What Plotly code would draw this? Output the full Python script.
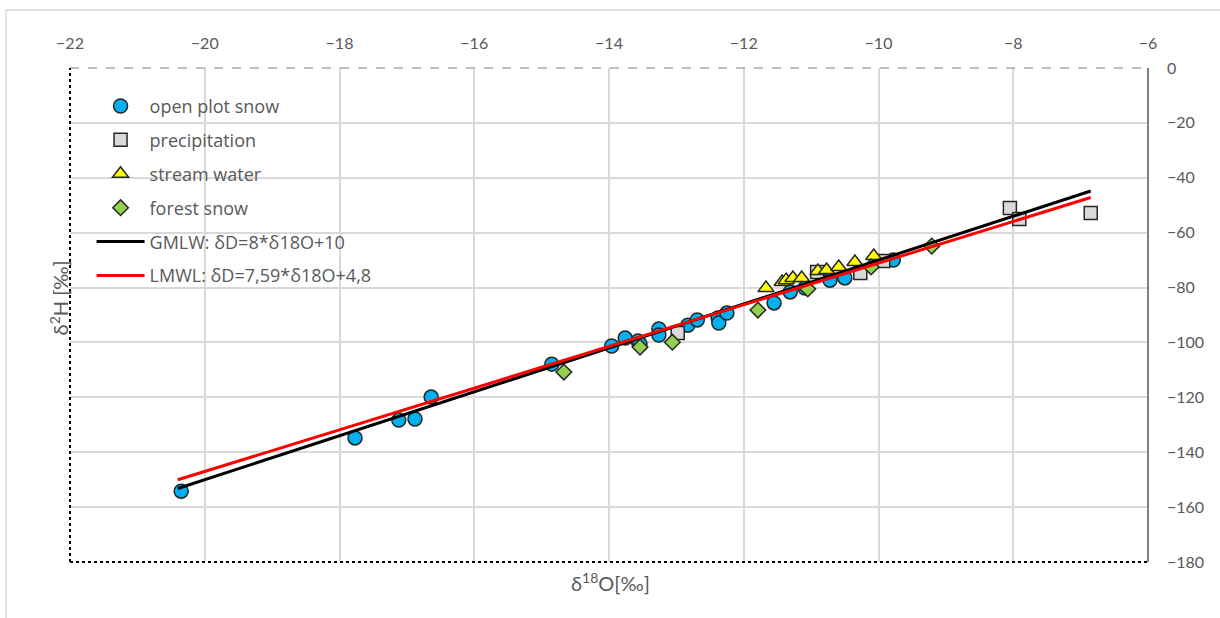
import plotly.graph_objects as go

# Isotope data: delta-18O (x) and delta-2H (y), per mille
snow_open_x = [-20.35, -17.77, -17.12, -16.88, -16.64, -14.85, -13.96, -13.76, -13.57, -13.54,
               -13.26, -13.26, -12.83, -12.69, -12.38, -12.37, -12.25, -11.55, -11.31, -11.09,
               -10.72, -10.50, -9.78]
snow_open_y = [-154.2, -134.8, -128.3, -127.9, -119.9, -107.9, -101.3, -98.4, -99.5, -100.6,
               -95.1, -97.3, -93.7, -91.8, -91.1, -92.9, -89.3, -85.6, -81.6, -80.2,
               -77.3, -76.5, -70.0]

precip_x = [-12.98, -10.91, -10.27, -9.93, -8.05, -7.91, -6.85]
precip_y = [-96.6, -74.3, -74.7, -70.3, -51.0, -55.0, -52.8]

stream_x = [-11.67, -11.43, -11.37, -11.27, -11.14, -10.90, -10.77, -10.59, -10.35, -10.07]
stream_y = [-80.2, -78.0, -77.3, -76.5, -76.5, -74.0, -73.6, -72.5, -70.7, -68.5]

forest_x = [-14.67, -13.54, -13.06, -11.79, -11.05, -10.11, -9.21]
forest_y = [-110.8, -101.7, -99.9, -88.2, -80.5, -72.5, -64.9]

# Meteoric water lines: slope, intercept
gmwl_slope, gmwl_icpt = 8.0, 10.0
lmwl_slope, lmwl_icpt = 7.59, 4.8
line_x = [-20.4, -6.85]

x_ticks = [-22, -20, -18, -16, -14, -12, -10, -8, -6]
y_ticks = [0, -20, -40, -60, -80, -100, -120, -140, -160, -180]

FONT = "Lato, 'Open Sans', sans-serif"
LEG_FONT = "'Open Sans', Lato, sans-serif"
TXT = "#595959"
EDGE = "#262626"

fig = go.Figure()

marker_specs = [
    ("open plot snow", snow_open_x, snow_open_y, "circle", "#00B0F0", 14),
    ("precipitation", precip_x, precip_y, "square", "#D9D9D9", 13),
    ("stream water", stream_x, stream_y, "triangle-up", "#FFFF00", 14),
    ("forest snow", forest_x, forest_y, "diamond", "#92D050", 12),
]
for i, (name, xs, ys, sym, col, sz) in enumerate(marker_specs):
    fig.add_trace(go.Scatter(
        x=xs, y=ys, mode="markers", name=name, legendgroup=f"g{i}",
        marker=dict(symbol=sym, color=col, size=sz, line=dict(color=EDGE, width=1.5)),
    ))

for i, (name, slope, icpt, col) in enumerate([
    ("GMLW: δD=8*δ18O+10", gmwl_slope, gmwl_icpt, "#000000"),
    ("LMWL: δD=7,59*δ18O+4,8", lmwl_slope, lmwl_icpt, "#FF0000"),
]):
    fig.add_trace(go.Scatter(
        x=line_x, y=[slope * v + icpt for v in line_x], mode="lines", name=name,
        legendgroup=f"l{i}", line=dict(color=col, width=3),
    ))

axis_common = dict(
    showgrid=True, gridcolor="#D9D9D9", gridwidth=1.5, zeroline=False,
    showline=False, ticks="", tickfont=dict(family=FONT, size=16, color=TXT),
)
fig.update_xaxes(range=[-22, -6], tickvals=x_ticks, side="top",
                 ticklabelstandoff=15, **axis_common)
fig.update_yaxes(range=[-180, 0], tickvals=y_ticks, side="right",
                 ticklabelstandoff=18, **axis_common)

# Chart frame and plot-area border
shapes = [
    dict(type="line", xref="paper", yref="paper", x0=-0.0594, x1=1.07, y0=1.1174, y1=1.1174,
         line=dict(color="#D9D9D9", width=1.5)),
    dict(type="line", xref="paper", yref="paper", x0=-0.0594, x1=-0.0594, y0=1.1174, y1=-0.12,
         line=dict(color="#D9D9D9", width=1.5)),
    dict(type="line", xref="paper", yref="paper", x0=0, x1=1, y0=1, y1=1,
         line=dict(color="#7F7F7F", width=1, dash="dash")),
    dict(type="line", xref="paper", yref="paper", x0=0, x1=0, y0=0, y1=1,
         line=dict(color="#000000", width=2, dash="dot")),
    dict(type="line", xref="paper", yref="paper", x0=0, x1=1, y0=0, y1=0,
         line=dict(color="#000000", width=2, dash="dot")),
    dict(type="line", xref="paper", yref="paper", x0=1, x1=1, y0=0, y1=1,
         line=dict(color="#808080", width=2)),
]

annotations = [
    dict(text="δ<sup>18</sup>O[‰]", xref="paper", yref="paper", x=0.501, y=-0.041,
         xanchor="center", yanchor="middle", showarrow=False,
         font=dict(family=FONT, size=20, color=TXT)),
    dict(text="δ<sup>2</sup>H [‰]", xref="paper", yref="paper", x=-0.0105, y=0.535,
         xanchor="center", yanchor="middle", showarrow=False, textangle=-90,
         font=dict(family=FONT, size=20, color=TXT)),
]

fig.update_layout(
    width=1220, height=618,
    margin=dict(l=70, r=72, t=68, b=56),
    paper_bgcolor="white", plot_bgcolor="white",
    showlegend=True,
    legend=dict(
        x=0.02, y=0.960, xanchor="left", yanchor="top",
        bgcolor="rgba(255,255,255,0)", borderwidth=0,
        font=dict(family=LEG_FONT, size=18, color=TXT),
        traceorder="grouped", tracegroupgap=7.5, itemwidth=48,
    ),
    shapes=shapes, annotations=annotations,
)

fig.write_html("out.html")
